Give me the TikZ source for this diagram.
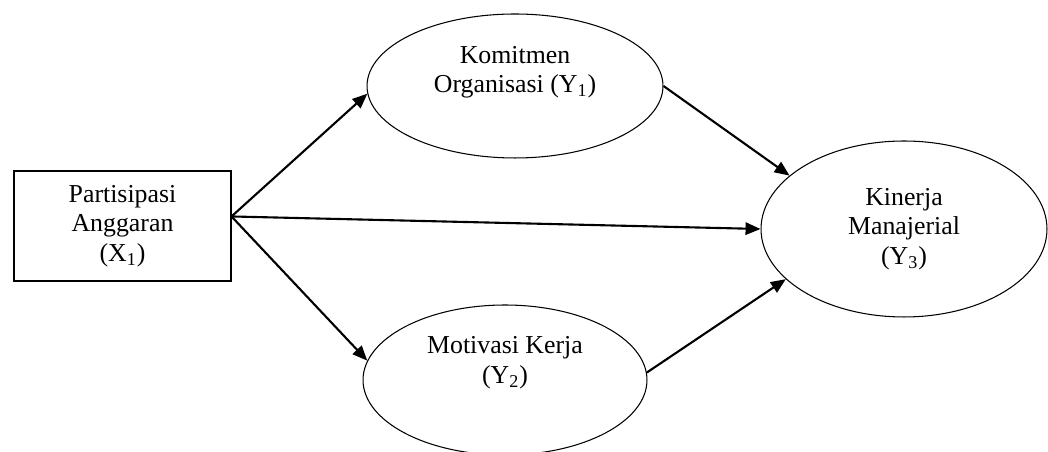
\documentclass[tikz,border=0pt]{standalone}
\usepackage{fontspec}
\setmainfont{Liberation Serif}
\usetikzlibrary{shapes.geometric,arrows.meta}
\begin{document}
\begin{tikzpicture}[x=0.02cm, y=0.02cm,
    every node/.style={font=\fontsize{14.7}{16.8}\selectfont, align=center},
    observed/.style={draw, rectangle, line width=0.6pt, inner sep=0pt},
    latent/.style={draw, ellipse, line width=0.6pt, inner sep=0pt},
    link/.style={-{Triangle[length=8.5pt,width=7pt]}, line width=1.2pt}]
    \useasboundingbox (0,0) rectangle (1048,452);

    % Exogenous variable
    \node[observed, minimum width=4.34cm, minimum height=2.2cm] (x1) at (122.5,226)
        {Partisipasi\\Anggaran\\(X\textsubscript{1})};

    % Mediators
    \node[latent, minimum width=5.92cm, minimum height=2.88cm] (y1) at (515,366)
        {Komitmen\\Organisasi (Y\textsubscript{1})\\[2pt]};
    \node[latent, minimum width=5.68cm, minimum height=3.0cm] (y2) at (505,72)
        {Motivasi Kerja\\(Y\textsubscript{2})\\[6pt]};

    % Endogenous variable
    \node[latent, minimum width=5.72cm, minimum height=3.52cm] (y3) at (904,223)
        {Kinerja\\Manajerial\\(Y\textsubscript{3})};

    % Paths
    \draw[link] (x1.5) -- (y1.183);
    \draw[link] (x1.5) -- (y3.west);
    \draw[link] (x1.5) -- (y2.172);
    \draw[link] (y1.east) -- (y3.155);
    \draw[link] (y2.3) -- (y3.203);
\end{tikzpicture}
\end{document}
